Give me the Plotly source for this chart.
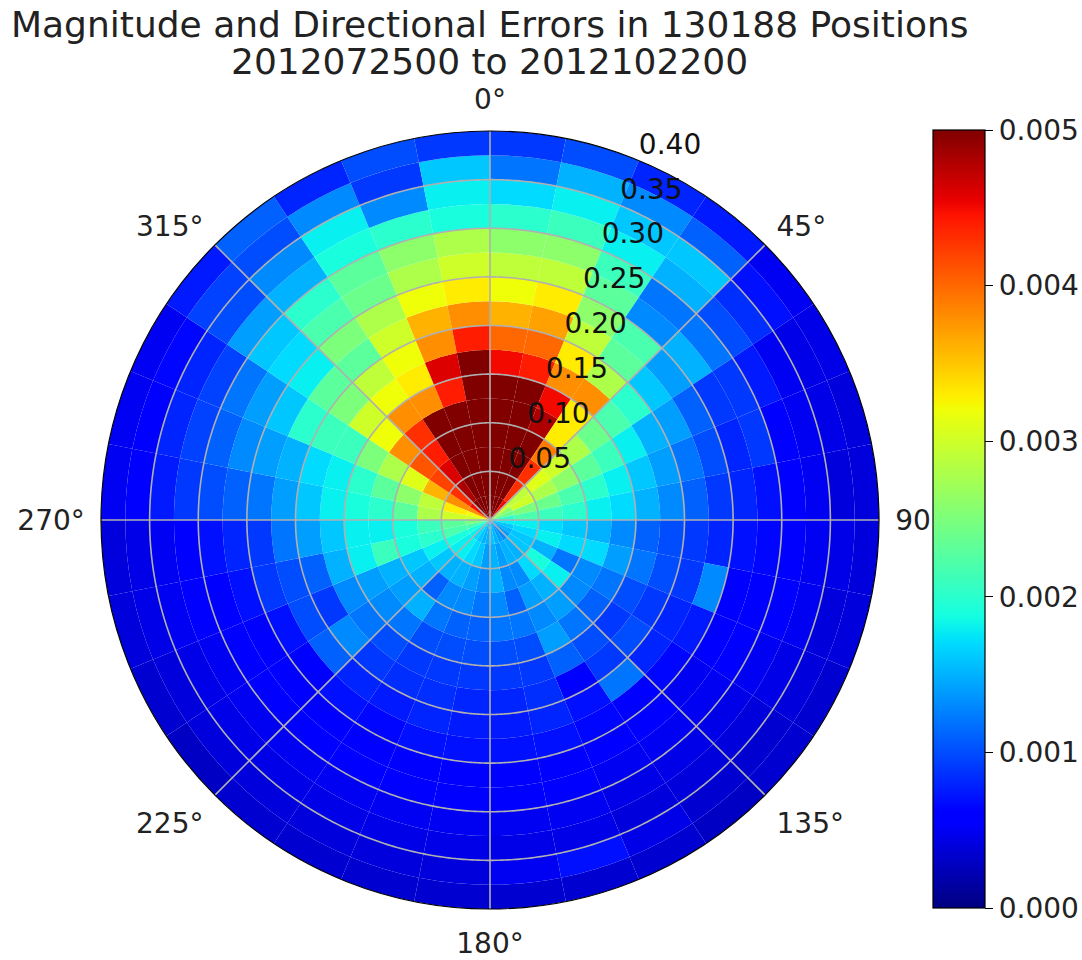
import numpy as np
import plotly.graph_objects as go

# ---- data (values in units of 1e-3), one list per 11.25-degree direction sector,
# ---- each list runs outward over radial bins of width 0.025 (0.000 ... 0.400)
s000 = [8, 8, 7, 6.5, 5.5, 5.1, 4.5, 4.0, 3.6, 3.2, 2.9, 2.6, 2.0, 1.7, 1.2, 0.9]
s011 = [8, 8, 7, 6.5, 5.5, 5.0, 4.4, 4.0, 3.7, 3.3, 2.9, 2.6, 2.1, 1.8, 1.5, 1.0]
s022 = [8, 7, 6, 5.2, 4.8, 4.5, 3.8, 3.3, 2.9, 2.6, 2.3, 2.1, 1.8, 1.6, 1.3, 0.8]
s034 = [4.5, 4.3, 4.3, 3.9, 3.3, 3.3, 3.8, 2.8, 2.3, 2.2, 1.3, 1.2, 1.5, 1.6, 1.1, 0.75]
s045 = [3.0, 2.9, 3.1, 3.0, 2.8, 2.4, 2.2, 2.0, 1.6, 1.4, 1.5, 1.2, 1.0, 0.85, 0.7, 0.5]
s056 = [2.6, 3.0, 2.8, 2.6, 2.3, 2.1, 1.8, 1.5, 1.4, 1.1, 0.9, 0.9, 0.75, 0.5, 0.45, 0.45]
s068 = [2.4, 2.5, 2.4, 2.2, 2.0, 1.8, 1.6, 1.4, 1.2, 1.0, 0.8, 0.9, 0.6, 0.5, 0.45, 0.4]
s079 = [2.0, 2.2, 2.1, 2.0, 1.8, 1.7, 1.5, 1.3, 1.1, 0.9, 0.8, 0.7, 0.6, 0.5, 0.4, 0.4]
s090 = [1.8, 1.8, 1.7, 1.6, 1.5, 1.3, 1.1, 1.0, 0.9, 0.8, 0.7, 0.65, 0.6, 0.5, 0.45, 0.4]
s101 = [1.6, 1.7, 1.8, 1.7, 1.7, 1.4, 1.2, 1.0, 0.9, 1.3, 0.6, 0.6, 0.55, 0.5, 0.4, 0.4]
s112 = [1.5, 1.6, 1.5, 1.2, 1.3, 1.2, 1.0, 0.9, 0.8, 0.75, 0.6, 0.55, 0.5, 0.45, 0.4, 0.35]
s124 = [1.4, 1.6, 1.9, 1.8, 1.3, 1.1, 0.9, 1.0, 0.8, 0.65, 0.5, 0.5, 0.45, 0.4, 0.35, 0.35]
s135 = [1.3, 1.5, 1.7, 1.5, 1.4, 1.2, 1.0, 0.9, 1.2, 0.6, 0.55, 0.5, 0.45, 0.4, 0.35, 0.3]
s146 = [1.4, 1.5, 1.3, 1.4, 1.3, 1.4, 1.1, 0.6, 0.7, 0.65, 0.6, 0.5, 0.45, 0.4, 0.45, 0.35]
s158 = [1.5, 1.4, 1.3, 1.1, 1.2, 1.0, 0.9, 0.85, 0.8, 0.7, 0.6, 0.55, 0.5, 0.45, 0.7, 0.35]
s169 = [1.6, 1.5, 1.5, 1.3, 1.2, 1.0, 0.9, 0.8, 0.75, 0.7, 0.6, 0.55, 0.5, 0.45, 0.5, 0.35]
s180 = [1.5, 1.4, 1.3, 1.2, 1.1, 1.0, 0.9, 0.8, 0.75, 0.7, 0.6, 0.55, 0.5, 0.45, 0.4, 0.35]
s191 = [1.5, 1.6, 1.4, 1.3, 1.1, 1.0, 0.9, 0.85, 0.8, 0.7, 0.6, 0.55, 0.5, 0.45, 0.4, 0.35]
s202 = [1.6, 1.7, 1.5, 1.3, 1.2, 1.0, 0.9, 0.85, 0.75, 0.65, 0.6, 0.55, 0.5, 0.45, 0.4, 0.35]
s214 = [1.7, 1.8, 1.5, 1.1, 1.5, 1.2, 1.0, 0.9, 0.8, 0.7, 0.6, 0.55, 0.5, 0.45, 0.4, 0.35]
s225 = [1.8, 1.8, 1.6, 1.5, 1.4, 1.3, 1.2, 1.3, 1.1, 0.6, 0.6, 0.55, 0.5, 0.45, 0.4, 0.3]
s236 = [1.9, 1.9, 1.8, 1.6, 1.5, 1.4, 1.3, 0.9, 1.0, 0.7, 0.6, 0.55, 0.5, 0.45, 0.4, 0.35]
s248 = [2.2, 2.2, 2.0, 1.9, 2.1, 1.8, 1.5, 1.1, 1.0, 0.9, 0.7, 0.6, 0.55, 0.5, 0.45, 0.4]
s259 = [2.5, 2.3, 2.1, 1.9, 1.8, 1.8, 1.6, 1.4, 1.2, 0.9, 0.8, 0.7, 0.6, 0.5, 0.45, 0.4]
s270 = [3.0, 3.0, 2.8, 2.3, 2.0, 1.9, 1.8, 1.6, 1.4, 1.2, 1.1, 1.0, 0.9, 0.75, 0.6, 0.5]
s281 = [3.2, 3.3, 2.9, 2.6, 2.3, 2.0, 1.8, 1.7, 1.5, 1.4, 1.3, 1.1, 0.95, 0.8, 0.6, 0.5]
s292 = [3.8, 3.8, 3.6, 3.1, 2.8, 2.5, 2.1, 2.1, 2.0, 1.6, 1.4, 1.2, 0.95, 0.8, 0.65, 0.5]
s304 = [4.5, 4.3, 4.2, 4.1, 3.8, 3.2, 3.0, 2.5, 2.3, 1.8, 1.7, 1.6, 1.4, 1.0, 0.95, 0.75]
s315 = [5.0, 4.8, 4.6, 4.4, 4.3, 3.8, 3.2, 2.9, 2.3, 2.5, 2.2, 2.0, 1.5, 1.3, 1.0, 1.1]
s326 = [6, 6, 5.5, 5.2, 5.0, 3.8, 3.3, 3.2, 3.0, 2.8, 2.4, 2.3, 1.9, 1.8, 1.3, 0.8]
s338 = [8, 7, 6.5, 6, 5.5, 4.4, 4.6, 3.8, 3.6, 3.2, 2.8, 2.6, 2.0, 1.3, 0.9, 1.0]
s349 = [8, 8, 7.5, 7, 6, 5.5, 5, 4.4, 3.8, 3.3, 3.0, 2.8, 1.9, 1.8, 1.6, 0.9]

sectors = [s000, s011, s022, s034, s045, s056, s068, s079,
           s090, s101, s112, s124, s135, s146, s158, s169,
           s180, s191, s202, s214, s225, s236, s248, s259,
           s270, s281, s292, s304, s315, s326, s338, s349]

sector_width = 11.25
r_inner = [0.000, 0.025, 0.050, 0.075, 0.100, 0.125, 0.150, 0.175,
           0.200, 0.225, 0.250, 0.275, 0.300, 0.325, 0.350, 0.375]
r_width = 0.025

radial_ticks = [0.05, 0.10, 0.15, 0.20, 0.25, 0.30, 0.35, 0.40]
radial_labels = ["0.05", "0.10", "0.15", "0.20", "0.25", "0.30", "0.35", "0.40"]
radial_label_angle = 22.5
angle_ticks = [0, 45, 90, 135, 180, 225, 270, 315]
angle_labels = ["0°", "45°", "90°", "135°", "180°", "225°", "270°", "315°"]
cbar_ticks = [0.000, 0.001, 0.002, 0.003, 0.004, 0.005]
cbar_labels = ["0.000", "0.001", "0.002", "0.003", "0.004", "0.005"]

title_line1 = "Magnitude and Directional Errors in 130188 Positions"
title_line2 = "2012072500 to 2012102200"

# matplotlib 'jet'
jet = [
    [0.000, "rgb(0,0,128)"], [0.110, "rgb(0,0,255)"], [0.125, "rgb(0,0,255)"],
    [0.340, "rgb(0,219,255)"], [0.350, "rgb(0,230,247)"], [0.375, "rgb(21,255,226)"],
    [0.640, "rgb(239,255,8)"], [0.650, "rgb(247,245,0)"], [0.660, "rgb(255,236,0)"],
    [0.890, "rgb(255,19,0)"], [0.910, "rgb(232,0,0)"], [1.000, "rgb(128,0,0)"],
]

thetas, bases, rs, vals = [], [], [], []
for k, sec in enumerate(sectors):
    for j, v in enumerate(sec):
        thetas.append(k * sector_width + sector_width / 2)
        bases.append(r_inner[j])
        rs.append(r_width)
        vals.append(v * 1e-3)

FONT = "DejaVu Sans"
TICK_SIZE = 28
fig = go.Figure()
fig.add_trace(go.Barpolar(
    theta=thetas, r=rs, base=bases, width=[sector_width] * len(thetas),
    marker=dict(color=vals, colorscale=jet, cmin=0, cmax=0.005,
                line=dict(width=0),
                colorbar=dict(
                    x=933 / 1082, xanchor="left", xpad=0,
                    y=1 - 519 / 960, yanchor="middle", ypad=0,
                    len=778 / 960, lenmode="fraction", thickness=52,
                    outlinewidth=1.2, outlinecolor="black",
                    bgcolor="white",
                    tickmode="array", tickvals=cbar_ticks, ticktext=cbar_labels,
                    ticks="outside", ticklen=8, tickwidth=1.2, tickcolor="black",
                    tickfont=dict(family=FONT, size=TICK_SIZE, color="#222"))),
    showlegend=False, hoverinfo="skip",
))

grid_style = dict(color="#b0b0b0", width=1.6)
circle_theta = np.linspace(0, 360, 721)
for rv in radial_ticks[:-1]:
    fig.add_trace(go.Scatterpolar(r=[rv] * len(circle_theta), theta=circle_theta,
                                  mode="lines", line=grid_style,
                                  showlegend=False, hoverinfo="skip"))
for th in angle_ticks:
    fig.add_trace(go.Scatterpolar(r=[0, radial_ticks[-1]], theta=[th, th],
                                  mode="lines", line=grid_style,
                                  showlegend=False, hoverinfo="skip"))

# radial tick labels, anchored bottom-left at each ring along 22.5 degrees
fig.add_trace(go.Scatterpolar(r=radial_ticks, theta=[radial_label_angle] * len(radial_ticks),
                              mode="text", text=radial_labels, textposition="top right",
                              textfont=dict(family=FONT, size=TICK_SIZE, color="#111"),
                              cliponaxis=False, showlegend=False, hoverinfo="skip"))

fig.update_layout(
    width=1082, height=960,
    margin=dict(l=0, r=0, t=0, b=0),
    paper_bgcolor="white",
    font=dict(family=FONT, color="#222"),
    annotations=[
        dict(text=title_line1, x=489 / 1082, y=1 - 25 / 960, xref="paper", yref="paper",
             xanchor="center", yanchor="middle", showarrow=False,
             font=dict(family=FONT, size=36, color="#222")),
        dict(text=title_line2, x=489 / 1082, y=1 - 62 / 960, xref="paper", yref="paper",
             xanchor="center", yanchor="middle", showarrow=False,
             font=dict(family=FONT, size=36, color="#222")),
    ],
    polar=dict(
        domain=dict(x=[101 / 1082, 879 / 1082], y=[1 - 909 / 960, 1 - 131 / 960]),
        bgcolor="white",
        angularaxis=dict(rotation=90, direction="clockwise",
                         tickmode="array", tickvals=angle_ticks, ticktext=angle_labels,
                         showgrid=False, showline=True, linecolor="black", linewidth=1.2,
                         ticks="outside", ticklen=10, tickcolor="rgba(0,0,0,0)",
                         tickfont=dict(family=FONT, size=TICK_SIZE, color="#222")),
        radialaxis=dict(range=[0, 0.4], showticklabels=False, showgrid=False,
                        showline=False, ticks=""),
    ),
)

fig.write_html("out.html")
